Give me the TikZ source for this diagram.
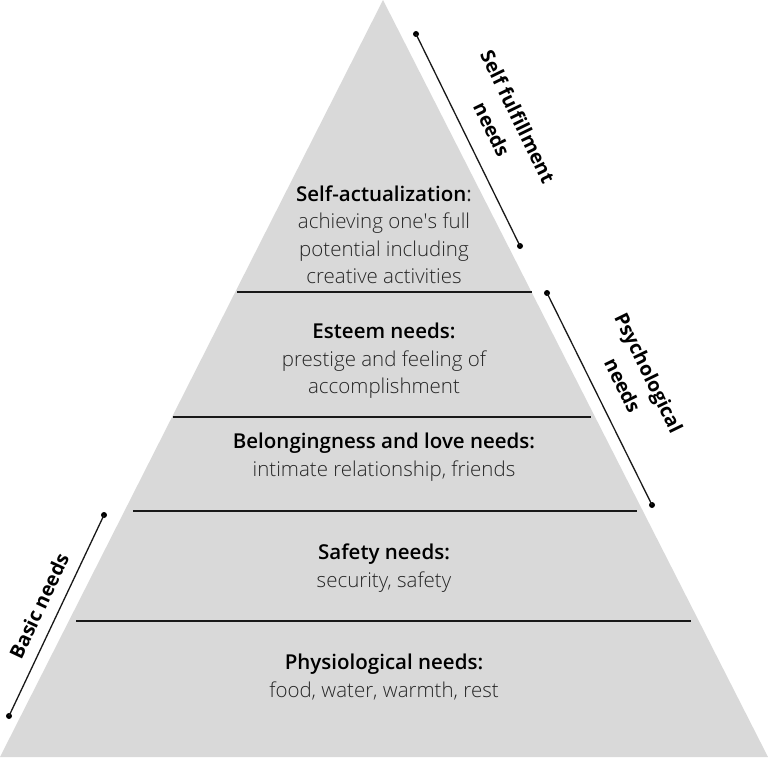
\documentclass[tikz,border=0pt]{standalone}
\usepackage{fontspec}
\setmainfont{Open Sans}
\newfontfamily\lightfont{Open Sans Light}
\usetikzlibrary{calc}
\definecolor{pyrgray}{HTML}{D9D9D9}
\newcommand{\hd}[1]{{\bfseries\color{black}#1}}

\tikzset{
  tierline/.style={line width=2pt, black!90},
  sideline/.style={line width=1.3pt, black!90},
  enddot/.style={circle, fill=black, inner sep=0pt, minimum size=6pt},
  tiertext/.style={align=center, text=black!85, font=\fontsize{20.5}{27.5}\selectfont\lightfont},
  sidelabel/.style={align=center, text=black, font=\fontsize{19.5}{29}\selectfont\bfseries}
}

\begin{document}
\begin{tikzpicture}[x=1pt,y=-1pt]
		\useasboundingbox (0,0) rectangle (768,768);
		% pyramid
		\coordinate (apex) at (383,0);
		\coordinate (bl) at (0,757);
		\coordinate (br) at (768,757);
		\fill[pyrgray] (apex) -- (br) -- (bl) -- cycle;
		
		% tier borders
		\foreach \y/\l/\r in {291.5/237/532,417/173/591,511/133/637,621/76/691}
		{
		\draw[tierline] (\l,\y) to (\r,\y);
		}
		
		% tier texts
		\node[tiertext] (selfact) at (384,235) {\hd{Self-actualization}{\normalfont:}\\achieving one\textquotesingle s full\\potential including\\creative activities};
		\node[tiertext] (esteem) at (384,361) {\hd{Esteem needs:}\\prestige and feeling of\\accomplishment};
		\node[tiertext] (belong) at (384,457) {\hd{Belongingness and love needs:}\\intimate relationship, friends};
		\node[tiertext] (safety) at (384,568) {\hd{Safety needs:}\\security, safety};
		\node[tiertext] (physio) at (384,677) {\hd{Physiological needs:}\\food, water, warmth, rest};
		
		% side brackets
		\node[enddot] (sftop) at (416,34) {};
		\node[enddot] (sfbot) at (520,246) {};
		\draw[sideline] (sftop.center) to (sfbot.center);
		\node[sidelabel, rotate=-64] (sflabel) at (505,123) {Self fulfillment\\needs};
		
		\node[enddot] (pstop) at (547,293) {};
		\node[enddot] (psbot) at (652,505) {};
		\draw[sideline] (pstop.center) to (psbot.center);
		\node[sidelabel, rotate=-64] (pslabel) at (636,379) {Psychological\\needs};
		
		\node[enddot] (bstop) at (104,515) {};
		\node[enddot] (bsbot) at (9,716) {};
		\draw[sideline] (bstop.center) to (bsbot.center);
		\node[sidelabel, rotate=64.8] (bslabel) at (39,606) {Basic needs};
	\end{tikzpicture}
\end{document}
